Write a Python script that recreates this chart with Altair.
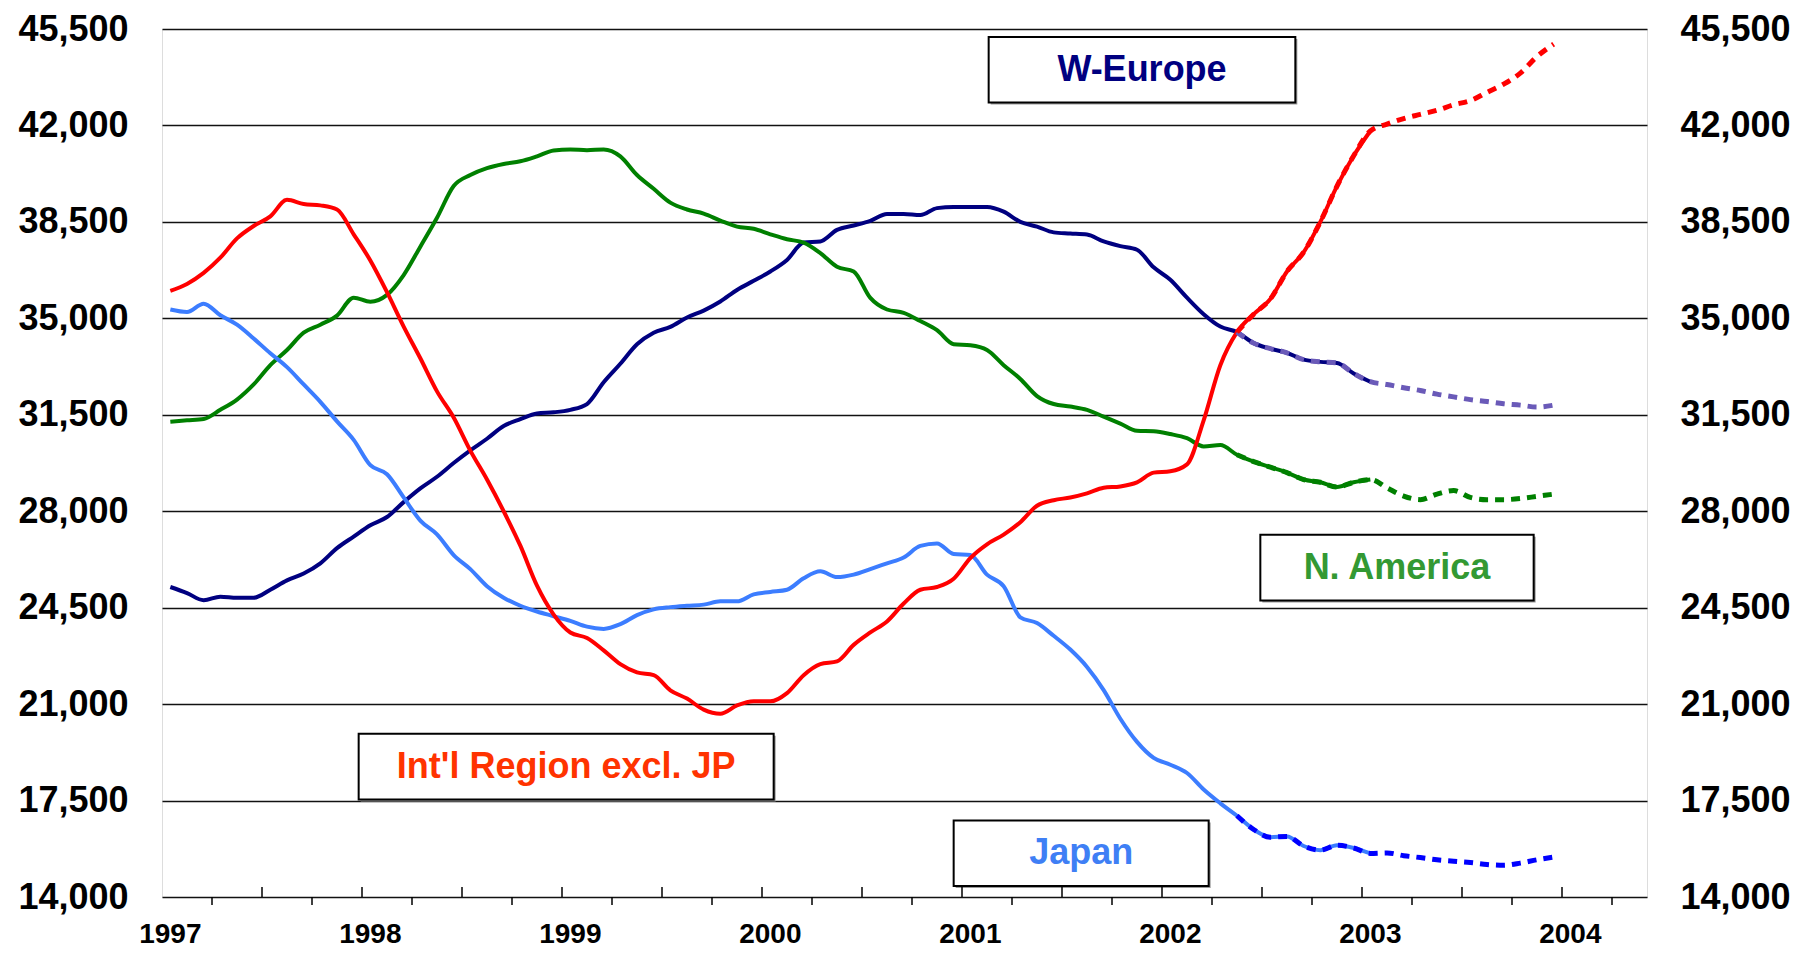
import altair as alt
import pandas as pd

# ---------------- data ----------------
series_names = ["W-Europe", "N. America", "Japan", "Int'l Region excl. JP"]

months_actual = list(range(73))          # Jan 1997 .. Jan 2003
months_forecast = list(range(64, 84))    # May 2002 .. Dec 2003

we_actual = [25250, 25030, 24770, 24900, 24860, 24860, 25150, 25490, 25740, 26110,
             26660, 27080, 27490, 27790, 28330, 28830, 29250, 29750, 30210, 30630,
             31090, 31340, 31550, 31590, 31680, 31890, 32680, 33350, 34060, 34480,
             34690, 35030, 35280, 35610, 36030, 36360, 36700, 37120, 37750, 37790,
             38210, 38370, 38540, 38790, 38790, 38750, 39000, 39040, 39040, 39040,
             38870, 38500, 38330, 38120, 38080, 38040, 37790, 37620, 37490, 36850,
             36400, 35750, 35150, 34700, 34500, 34100, 33900, 33750, 33500, 33420,
             33380, 33000, 32700]
na_actual = [31250, 31300, 31350, 31680, 32050, 32600, 33300, 33850, 34480, 34770,
             35100, 35750, 35600, 35850, 36570, 37600, 38650, 39800, 40200, 40450,
             40600, 40700, 40880, 41090, 41130, 41100, 41130, 40880, 40200, 39700,
             39200, 38950, 38800, 38550, 38330, 38250, 38050, 37870, 37750, 37370,
             36870, 36700, 35740, 35320, 35200, 34900, 34570, 34060, 34020, 33850,
             33300, 32800, 32180, 31890, 31800, 31680, 31430, 31180, 30920, 30900,
             30800, 30650, 30350, 30400, 30050, 29800, 29600, 29400, 29150, 29050,
             28880, 29050, 29150]
jp_actual = [35320, 35230, 35530, 35110, 34770, 34270, 33730, 33230, 32600, 31970,
             31260, 30590, 29670, 29340, 28500, 27660, 27160, 26410, 25900, 25280,
             24860, 24570, 24360, 24190, 24020, 23810, 23730, 23900, 24230, 24440,
             24520, 24570, 24610, 24730, 24730, 24980, 25070, 25150, 25570, 25820,
             25610, 25700, 25900, 26110, 26320, 26740, 26830, 26450, 26410, 25700,
             25280, 24150, 23940, 23480, 22980, 22350, 21510, 20470, 19630, 19050,
             18800, 18500, 17900, 17400, 16950, 16450, 16170, 16200, 15850, 15700,
             15880, 15780, 15580]
intl_actual = [36000, 36250, 36650, 37200, 37900, 38350, 38700, 39300, 39150, 39100,
               38950, 38050, 37100, 35950, 34700, 33550, 32350, 31400, 30200, 29150,
               28000, 26750, 25300, 24250, 23600, 23400, 22950, 22450, 22150, 22050,
               21500, 21200, 20800, 20650, 20950, 21100, 21100, 21400, 22050, 22450,
               22550, 23150, 23600, 24000, 24650, 25150, 25250, 25550, 26300, 26800,
               27150, 27600, 28200, 28400, 28500, 28650, 28850, 28900, 29050, 29400,
               29450, 29700, 31300, 33300, 34500, 35150, 35700, 36700, 37400, 38500,
               39800, 40900, 41800]

we_forecast = [34500, 34100, 33900, 33750, 33500, 33420, 33380, 33000, 32700, 32600,
               32480, 32380, 32250, 32150, 32050, 31980, 31900, 31850, 31780, 31850]
na_forecast = [30050, 29800, 29600, 29400, 29150, 29050, 28880, 29050, 29150, 28850,
               28550, 28420, 28620, 28750, 28500, 28420, 28420, 28460, 28540, 28620]
jp_forecast = [16950, 16450, 16170, 16200, 15850, 15700, 15880, 15780, 15580, 15600,
               15500, 15430, 15350, 15300, 15250, 15180, 15150, 15230, 15350, 15450]
intl_forecast = [34500, 35150, 35700, 36700, 37400, 38500, 39800, 40900, 41800, 42050,
                 42250, 42400, 42550, 42750, 42900, 43200, 43500, 43900, 44500, 44950]

y_ticks = [14000, 17500, 21000, 24500, 28000, 31500, 35000, 38500, 42000, 45500]
year_labels = ["1997", "1998", "1999", "2000", "2001", "2002", "2003", "2004"]
year_label_months = [0, 12, 24, 36, 48, 60, 72, 84]
tick_out_months = [2.5 + 6 * i for i in range(15)]
tick_in_months = [5.5 + 6 * i for i in range(14)]

# annotation boxes (in data units: month index / value)
box_labels = ["W-Europe", "Int'l Region excl. JP", "N. America", "Japan"]
box_m1 = [49.1, 11.3, 65.4, 47.0]
box_m2 = [67.5, 36.2, 81.8, 62.3]
box_v1 = [42830, 17540, 24760, 14400]
box_v2 = [45210, 19920, 27150, 16780]

actual_colors = ["#000080", "#008000", "#3C7DFF", "#FF0000"]
forecast_colors = ["#6A5AB8", "#008000", "#0000FF", "#FF0000"]
label_colors = ["#000080", "#FF3300", "#339933", "#3F7FF5"]

# ---------------- tables ----------------
act_rows = []
for name, vals in zip(series_names, [we_actual, na_actual, jp_actual, intl_actual]):
    for m, v in zip(months_actual, vals):
        act_rows.append({"series": name, "month": m, "value": v})
actual_df = pd.DataFrame(act_rows)

fc_rows = []
for name, vals in zip(series_names, [we_forecast, na_forecast, jp_forecast, intl_forecast]):
    for m, v in zip(months_forecast, vals):
        fc_rows.append({"series": name, "month": m, "value": v})
forecast_df = pd.DataFrame(fc_rows)

box_df = pd.DataFrame({
    "label": box_labels, "m1": box_m1, "m2": box_m2, "v1": box_v1, "v2": box_v2,
})
box_df["mc"] = (box_df["m1"] + box_df["m2"]) / 2
box_df["vc"] = (box_df["v1"] + box_df["v2"]) / 2

years_df = pd.DataFrame({"month": year_label_months, "label": year_labels})
ticks_out_df = pd.DataFrame({"month": tick_out_months})
ticks_in_df = pd.DataFrame({"month": tick_in_months})

# ---------------- chart ----------------
FONT = "Liberation Sans"
W, H = 1485, 868
xs = alt.Scale(domain=[-0.5, 88.6], nice=False, zero=False)
ys = alt.Scale(domain=[14000, 45500], nice=False, zero=False)
xnone = alt.X("month:Q", scale=xs, axis=None)

actual = alt.Chart(actual_df).mark_line(strokeWidth=4, strokeJoin="round",
                                        interpolate="monotone").encode(
    x=xnone,
    y=alt.Y("value:Q", scale=ys, axis=alt.Axis(
        values=y_ticks, format=",d", grid=True, gridColor="#111111", gridWidth=1.6,
        ticks=False, tickSize=0, domain=False, title=None,
        labelFont=FONT, labelFontSize=36, labelFontWeight="bold", labelColor="black",
        labelPadding=34)),
    color=alt.Color("series:N", scale=alt.Scale(domain=series_names, range=actual_colors), legend=None),
    detail="series:N",
)

forecast = alt.Chart(forecast_df).mark_line(strokeWidth=5, strokeDash=[9, 7],
                                            interpolate="monotone").encode(
    x=xnone,
    y=alt.Y("value:Q", scale=ys, axis=alt.Axis(
        orient="right", values=y_ticks, format=",d", grid=False,
        ticks=False, tickSize=0, domain=False, title=None,
        labelFont=FONT, labelFontSize=36, labelFontWeight="bold", labelColor="black",
        labelPadding=33)),
    color=alt.Color("series:N", scale=alt.Scale(domain=series_names, range=forecast_colors), legend=None),
    detail="series:N",
)

shadow = alt.Chart(box_df).mark_rect(fill="#9a9a9a", xOffset=2, yOffset=2, x2Offset=2, y2Offset=2).encode(
    x=alt.X("m1:Q", scale=xs, axis=None), x2="m2:Q",
    y=alt.Y("v1:Q", scale=ys, axis=None), y2="v2:Q",
)
boxes = alt.Chart(box_df).mark_rect(fill="white", stroke="black", strokeWidth=2).encode(
    x=alt.X("m1:Q", scale=xs, axis=None), x2="m2:Q",
    y=alt.Y("v1:Q", scale=ys, axis=None), y2="v2:Q",
)
texts = alt.Chart(box_df).mark_text(font=FONT, fontSize=36, fontWeight="bold",
                                    align="center", baseline="middle").encode(
    x=alt.X("mc:Q", scale=xs, axis=None),
    y=alt.Y("vc:Q", scale=ys, axis=None),
    text="label:N",
    color=alt.Color("label:N", scale=alt.Scale(domain=box_labels, range=label_colors), legend=None),
)

year_text = alt.Chart(years_df).mark_text(font=FONT, fontSize=28, fontWeight="bold",
                                          align="center", baseline="alphabetic",
                                          color="black").encode(
    x=xnone,
    y=alt.value(H + 46),
    text="label:N",
)

ticks_out = alt.Chart(ticks_out_df).mark_rule(color="black", strokeWidth=1.5).encode(
    x=xnone, y=alt.value(H), y2=alt.value(H + 8),
)
ticks_in = alt.Chart(ticks_in_df).mark_rule(color="black", strokeWidth=1.5).encode(
    x=xnone, y=alt.value(H - 10), y2=alt.value(H),
)

chart = alt.layer(
    actual, shadow, boxes, texts, forecast, ticks_out, ticks_in, year_text
).resolve_scale(
    y="independent", color="independent"
).properties(
    width=W, height=H,
    autosize=alt.AutoSizeParams(type="none"),
    padding={"left": 154, "top": 21, "right": 161, "bottom": 53},
).configure_view(
    stroke="black", strokeWidth=2
).configure(background="white")

chart.save("out.html", embed_options={"renderer": "svg", "actions": False})
